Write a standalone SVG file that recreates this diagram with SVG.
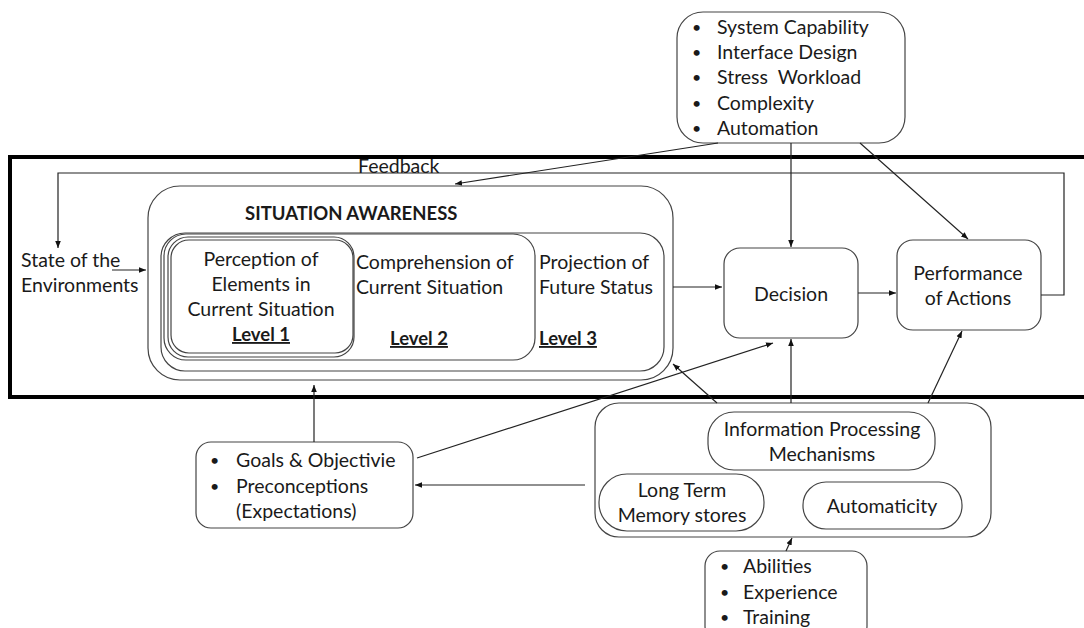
<svg xmlns="http://www.w3.org/2000/svg" width="1084" height="628" viewBox="0 0 1084 628">
  <style>
    text { font-family: Lato, "Open Sans", "Liberation Sans", sans-serif; font-size: 19.5px; fill: #1a1a1a; white-space: pre; }
    .c { text-anchor: middle; }
    .b { font-weight: bold; font-size: 18.5px; }
    .u { text-decoration: underline; }
    .dot { font-size: 16px; }
    .box { fill: #fff; stroke: #444; stroke-width: 1.2; }
    .ln { fill: none; stroke: #222; stroke-width: 1.2; }
  </style>
  <defs>
    <marker id="ah" viewBox="0 0 10 10" refX="10" refY="5" markerWidth="7" markerHeight="7" orient="auto" markerUnits="userSpaceOnUse">
      <path d="M0,1 L10,5 L0,9 z" fill="#111"/>
    </marker>
  </defs>
  <rect width="1084" height="628" fill="#fff"/>

  <!-- system boundary frame (open to the right) -->
  <rect id="frame" x="10" y="157" width="1090" height="240" fill="none" stroke="#000" stroke-width="4"/>

  <!-- task / system factors -->
  <g id="system-factors">
    <rect class="box" x="677" y="12" width="228" height="131" rx="26"/>
    <text class="dot" x="692" y="33">•</text><text x="717" y="34">System Capability</text>
    <text class="dot" x="692" y="58">•</text><text x="717" y="59">Interface Design</text>
    <text class="dot" x="692" y="83">•</text><text x="717" y="84">Stress  Workload</text>
    <text class="dot" x="692" y="109">•</text><text x="717" y="110">Complexity</text>
    <text class="dot" x="692" y="134">•</text><text x="717" y="135">Automation</text>
  </g>

  <g id="feedback-label">
    <text x="358" y="173">Feedback</text>
  </g>

  <g id="environment">
    <text x="21" y="267">State of the</text>
    <text x="21" y="292">Environments</text>
  </g>

  <!-- situation awareness, three nested levels -->
  <g id="situation-awareness">
    <rect class="box" x="148" y="186" width="525" height="194" rx="32"/>
    <text class="b" x="245" y="220">SITUATION AWARENESS</text>
    <rect class="box" x="161" y="233" width="503" height="138" rx="24"/>
    <rect class="box" x="164" y="234" width="371" height="126" rx="22"/>
    <rect class="box" x="168" y="237" width="186" height="120" rx="20"/>
    <rect class="box" x="171" y="240" width="182" height="113" rx="18"/>
    <text class="c" x="261" y="266">Perception of</text>
    <text class="c" x="261" y="291">Elements in</text>
    <text class="c" x="261" y="316">Current Situation</text>
    <text class="c b u" x="261" y="341">Level 1</text>
    <text x="356" y="269">Comprehension of</text>
    <text x="356" y="294">Current Situation</text>
    <text class="b u" x="390" y="345">Level 2</text>
    <text x="539" y="269">Projection of</text>
    <text x="539" y="294">Future Status</text>
    <text class="b u" x="539" y="345">Level 3</text>
  </g>

  <g id="decision">
    <rect class="box" x="724" y="248" width="134" height="90" rx="16"/>
    <text class="c" x="791" y="301">Decision</text>
  </g>

  <g id="performance">
    <rect class="box" x="897" y="240" width="144" height="90" rx="16"/>
    <text class="c" x="968" y="280">Performance</text>
    <text class="c" x="968" y="305">of Actions</text>
  </g>

  <g id="goals">
    <rect class="box" x="196" y="442" width="217" height="86" rx="15"/>
    <text class="dot" x="210" y="466">•</text><text x="236" y="467">Goals &amp; Objectivie</text>
    <text class="dot" x="210" y="492">•</text><text x="236" y="493">Preconceptions</text>
    <text x="236" y="518">(Expectations)</text>
  </g>

  <g id="individual-factors">
    <rect class="box" x="595" y="403" width="396" height="134" rx="24"/>
    <rect class="box" x="708" y="412" width="227" height="58" rx="26"/>
    <text class="c" x="822" y="436">Information Processing</text>
    <text class="c" x="822" y="461">Mechanisms</text>
    <rect class="box" x="599" y="474" width="165" height="57" rx="28"/>
    <text class="c" x="682" y="497">Long Term</text>
    <text class="c" x="682" y="522">Memory stores</text>
    <rect class="box" x="803" y="482" width="159" height="47" rx="23"/>
    <text class="c" x="882" y="513">Automaticity</text>
  </g>

  <g id="abilities">
    <rect class="box" x="705" y="551" width="162" height="90" rx="15"/>
    <text class="dot" x="720" y="572">•</text><text x="743" y="573">Abilities</text>
    <text class="dot" x="720" y="598">•</text><text x="743" y="599">Experience</text>
    <text class="dot" x="720" y="623">•</text><text x="743" y="624">Training</text>
  </g>

  <g id="connectors">
    <!-- feedback loop from actions back to the environment -->
    <polyline class="ln" points="1041,295 1064,295 1064,173 58,173 58,248" marker-end="url(#ah)"/>
    <line class="ln" x1="112" y1="270" x2="146" y2="270" marker-end="url(#ah)"/>
    <line class="ln" x1="718" y1="143" x2="455" y2="184" marker-end="url(#ah)"/>
    <line class="ln" x1="791" y1="143" x2="791" y2="247" marker-end="url(#ah)"/>
    <line class="ln" x1="860" y1="143" x2="968" y2="239" marker-end="url(#ah)"/>
    <line class="ln" x1="673" y1="287" x2="722" y2="287" marker-end="url(#ah)"/>
    <line class="ln" x1="858" y1="293" x2="896" y2="293" marker-end="url(#ah)"/>
    <line class="ln" x1="717" y1="403" x2="673" y2="364" marker-end="url(#ah)"/>
    <line class="ln" x1="791" y1="403" x2="791" y2="339" marker-end="url(#ah)"/>
    <line class="ln" x1="928" y1="403" x2="962" y2="331" marker-end="url(#ah)"/>
    <line class="ln" x1="417" y1="458" x2="773" y2="343" marker-end="url(#ah)"/>
    <line class="ln" x1="314" y1="442" x2="314" y2="385" marker-end="url(#ah)"/>
    <line class="ln" x1="585" y1="485" x2="415" y2="485" marker-end="url(#ah)"/>
    <line class="ln" x1="786" y1="551" x2="792" y2="538" marker-end="url(#ah)"/>
  </g>
</svg>
